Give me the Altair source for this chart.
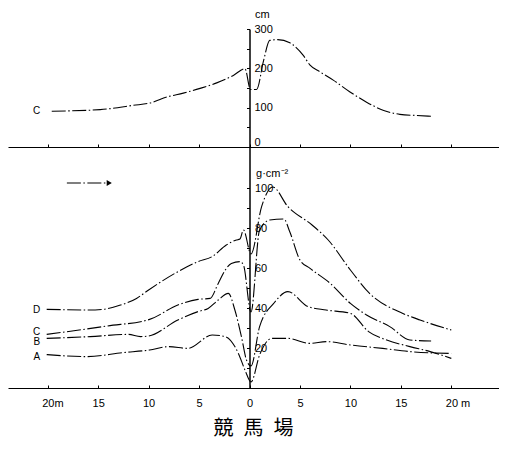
import altair as alt
import pandas as pd

# ---------------- data ----------------
# upper panel: curve C (cm) versus distance (m)
top_c_x = [-19.6, -14.8, -11.5, -9.85, -8.2, -6.56, -4.9, -3.25, -1.6, -0.45, 0.1, 0.7,
           1.4, 2.0, 2.8, 4.0, 4.3, 5.33, 6.0, 6.99, 8.3, 9.96, 11.6, 13.3, 14.9, 16.6, 18.0]
top_c_v = [91, 95, 106, 112, 127, 137, 149, 163, 182, 199, 146, 146,
           220, 271, 273, 265, 260, 233, 208, 191, 170, 140, 114, 93, 83, 80, 78]

# lower panel: g·cm^-2 versus distance (m)
d_x = [-20.1, -15.3, -13.1, -11.2, -10.0, -7.4, -5.1, -3.7, -2.3, -1.3, -0.95, -0.6, 0.15,
       1.2, 2.3, 3.8, 6.2, 7.8, 10.0, 11.9, 15.2, 16.9, 20.0]
d_v = [39.3, 39, 41, 44.8, 49, 57.3, 63.2, 65.7, 71.5, 74, 74.5, 79, 67,
       90.7, 100.5, 90.7, 81.5, 74, 59, 47.3, 37.3, 34, 29]

c_x = [-20.1, -14.1, -9.9, -7.1, -5.1, -3.9, -3.1, -2.4, -1.8, -0.95, -0.6, 0.15,
       1.0, 2.0, 3.4, 4.0, 5.0, 6.0, 8.0, 10.0, 11.6, 13.9, 15.9, 18.0]
c_v = [26.8, 31, 34.3, 41.5, 44.3, 44.8, 52.3, 59, 62.3, 63.2, 61.5, 38,
       79, 84, 84.5, 78, 64, 59.8, 52.3, 42.3, 36.5, 30.7, 24, 23.5]

b_x = [-20.1, -15.8, -12.0, -10.8, -10.0, -7.1, -5.1, -4.1, -3.1, -2.1, -1.45, -0.8, -0.3, 0.15,
       1.0, 2.4, 3.8, 5.8, 7.6, 10.0, 11.8, 13.6, 15.9, 17.9, 20.0]
b_v = [24.8, 25.7, 26.8, 25.7, 26, 34, 38.2, 39.8, 44, 47.3, 39, 25.7, 14, 11,
       30.7, 42.3, 48.2, 40.7, 39, 37.3, 28.2, 24, 20.7, 18.2, 14.8]

a_x = [-20.1, -16.1, -12.5, -9.9, -8.0, -6.1, -3.7, -2.4, -1.1, -0.45, 0.15,
       1.0, 2.2, 3.8, 6.0, 7.6, 10.0, 13.2, 15.9, 20.0]
a_v = [16.7, 15.7, 17.7, 19, 20.7, 19.8, 26.5, 25.7, 17.3, 9, 3,
       16.5, 24.8, 24.8, 22.3, 23.2, 21.5, 19.8, 18.2, 17.3]

x_ticks = [-20, -15, -10, -5, 0, 5, 10, 15, 20]
top_y_ticks = [0, 50, 100, 150, 200, 250, 300]
bot_y_ticks = [0, 10, 20, 30, 40, 50, 60, 70, 80, 90, 100]

letter_text = ["D", "C", "B", "A"]
letter_x = [-20.75, -20.75, -20.75, -20.75]
letter_v = [39, 28.2, 22.8, 15.5]

top_letter_text = ["C"]
top_letter_x = [-20.75]
top_letter_v = [91]

top_unit_text = ["cm"]
top_unit_x = [0.55]
top_unit_v = [329]

unit_text = ["g·cm⁻²"]
unit_x = [0.65]
unit_v = [105.5]

arrow_x = [-18.1]
arrow_x2 = [-14.2]
arrow_v = [102.5]
arrow_head_x = [-13.9]

title_text = "競\u2002馬\u2002場"

# ---------------- layout ----------------
W, H = 491, 380
PX_PER_M = 10.09
X0 = 241.5
XMIN = -X0 / PX_PER_M
XMAX = (W - X0) / PX_PER_M
TOP_RANGE = [139, 21]
BOT_RANGE = [380, 139]
FONT = "Liberation Sans"
DASH = [14, 2.5, 1.5, 2.5]

xs = alt.Scale(domain=[XMIN, XMAX], nice=False, zero=False)
ys_top = alt.Scale(domain=[0, 300], range=TOP_RANGE, nice=False, zero=False)
ys_bot = alt.Scale(domain=[0, 120.5], range=BOT_RANGE, nice=False, zero=False)

top_df = pd.DataFrame({"x": top_c_x, "v": top_c_v})
rows = []
for name, xx, vv in [("A", a_x, a_v), ("B", b_x, b_v), ("C", c_x, c_v), ("D", d_x, d_v)]:
    for x, v in zip(xx, vv):
        rows.append({"series": name, "x": x, "v": v})
bot_df = pd.DataFrame(rows)
letters_df = pd.DataFrame({"t": letter_text, "x": letter_x, "v": letter_v})
top_letter_df = pd.DataFrame({"t": top_letter_text, "x": top_letter_x, "v": top_letter_v})
top_unit_df = pd.DataFrame({"t": top_unit_text, "x": top_unit_x, "v": top_unit_v})
unit_df = pd.DataFrame({"t": unit_text, "x": unit_x, "v": unit_v})
arrow_df = pd.DataFrame({"x": arrow_x, "x2": arrow_x2, "v": arrow_v, "hx": arrow_head_x})

no_axis_x = alt.X("x:Q", scale=xs, axis=None)

top_line = alt.Chart(top_df).mark_line(
    interpolate="monotone", color="black", strokeWidth=1.1, strokeDash=DASH
).encode(
    x=alt.X("x:Q", scale=xs, axis=alt.Axis(
        orient="top", offset=-TOP_RANGE[0], values=x_ticks, labels=False,
        tickSize=3, title=None, grid=False, domainWidth=1.2)),
    y=alt.Y("v:Q", scale=ys_top, axis=alt.Axis(
        orient="left", offset=-X0, values=top_y_ticks,
        labelExpr="datum.value % 100 == 0 ? datum.label : ''",
        labelAlign="left", labelPadding=-7.5, tickSize=3, title=None, grid=False,
        domainWidth=1.5,
        labelBaseline={"condition": {"test": "datum.value == 0", "value": "bottom"}, "value": "middle"})),
)

top_unit = alt.Chart(top_unit_df).mark_text(
    font=FONT, fontSize=11, color="black", align="left", baseline="alphabetic"
).encode(
    x=no_axis_x,
    y=alt.Y("v:Q", scale=ys_top, axis=None),
    text="t:N",
)
top_letter = alt.Chart(top_letter_df).mark_text(
    font=FONT, fontSize=10, color="black", align="right", baseline="middle"
).encode(
    x=no_axis_x,
    y=alt.Y("v:Q", scale=ys_top, axis=None),
    text="t:N",
)

bot_lines = alt.Chart(bot_df).mark_line(
    interpolate="monotone", color="black", strokeWidth=1.1, strokeDash=DASH
).encode(
    x=alt.X("x:Q", scale=xs, axis=alt.Axis(
        orient="top", offset=-BOT_RANGE[0], values=x_ticks, labels=False,
        tickSize=3, title=None, grid=False, domainWidth=1.2)),
    y=alt.Y("v:Q", scale=ys_bot, axis=alt.Axis(
        orient="left", offset=-X0, values=bot_y_ticks,
        labelExpr="(datum.value > 0 && datum.value % 20 == 0) ? datum.label : ''",
        labelAlign="left", labelPadding=-8, tickSize=3, title=None, grid=False,
        domainWidth=1.5)),
    detail="series:N",
)

bot_letters = alt.Chart(letters_df).mark_text(
    font=FONT, fontSize=10, color="black", align="right", baseline="middle"
).encode(
    x=alt.X("x:Q", scale=xs, axis=alt.Axis(
        orient="bottom", values=x_ticks, ticks=False, tickSize=0, domain=False,
        labelPadding=9, labelFlush=False, title=None, grid=False,
        labelExpr="datum.value == -20 ? '20m' : (datum.value == 20 ? '20 m' : format(abs(datum.value), 'd'))",
        labelAlign={"condition": {"test": "abs(datum.value) == 20", "value": "left"}, "value": "center"},
        labelOffset={"condition": {"test": "abs(datum.value) == 20", "value": -6}, "value": 0})),
    y=alt.Y("v:Q", scale=ys_bot, axis=None),
    text="t:N",
)

unit_label = alt.Chart(unit_df).mark_text(
    font=FONT, fontSize=11, color="black", align="left", baseline="alphabetic"
).encode(
    x=no_axis_x,
    y=alt.Y("v:Q", scale=ys_bot, axis=None),
    text="t:N",
)

arrow_line = alt.Chart(arrow_df).mark_rule(
    color="black", strokeWidth=1.2, strokeDash=DASH
).encode(
    x=no_axis_x,
    x2="x2:Q",
    y=alt.Y("v:Q", scale=ys_bot, axis=None),
)
arrow_head = alt.Chart(arrow_df).mark_point(
    shape="triangle-right", filled=True, size=35, color="black", opacity=1
).encode(
    x=alt.X("hx:Q", scale=xs, axis=None),
    y=alt.Y("v:Q", scale=ys_bot, axis=None),
)

chart = alt.layer(
    top_line, top_unit, top_letter, bot_lines, bot_letters, unit_label, arrow_line, arrow_head
).resolve_scale(
    y="independent"
).resolve_axis(
    x="independent", y="independent"
).properties(
    width=W, height=H,
    autosize=alt.AutoSizeParams(type="none"),
    padding={"left": 0, "top": 0, "right": 0, "bottom": 54},
    title=alt.TitleParams(title_text, orient="bottom", anchor="middle", offset=11,
                          font="Noto Sans CJK JP", fontSize=20, fontWeight="normal",
                          color="black"),
).configure_view(
    stroke=None
).configure_axis(
    labelFont=FONT, labelFontSize=11, labelColor="black",
    domainColor="black", tickColor="black", tickWidth=1
)

chart.save("out.html", embed_options={"renderer": "svg", "actions": False})
